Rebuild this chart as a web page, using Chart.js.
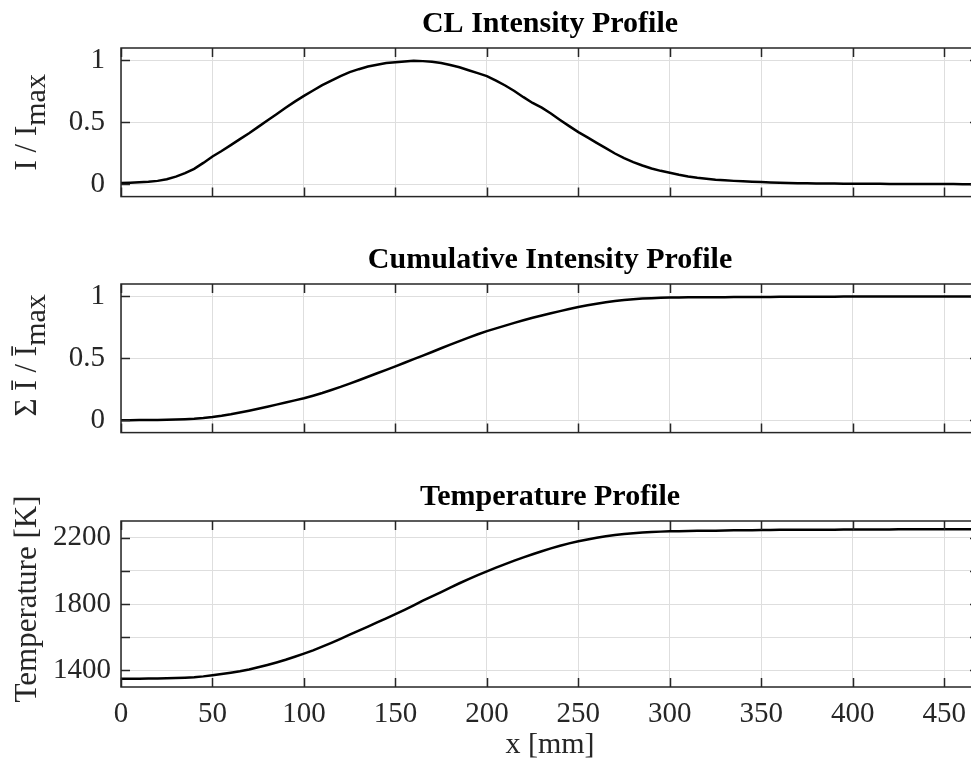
<!DOCTYPE html>
<html>
<head>
<meta charset="utf-8">
<script src="https://cdn.jsdelivr.net/npm/chart.js@4/dist/chart.umd.min.js"></script>
<style>
html, body { margin: 0; padding: 0; background: #fff; overflow: hidden; width: 971px; height: 760px; }
.panel { position: absolute; left: 0; }
canvas { display: block; }
</style>
</head>
<body>
<div class="panel" style="top:0px"><canvas id="c1" width="1100" height="230"></canvas></div>
<div class="panel" style="top:236px"><canvas id="c2" width="1100" height="230"></canvas></div>
<div class="panel" style="top:473px"><canvas id="c3" width="1100" height="287"></canvas></div>
<script>
// ---------------- data ----------------
const X_MM = [0,5,10,15,20,25,30,35,40,45,50,55,60,65,70,75,80,85,90,95,100,105,110,115,120,125,130,135,140,145,150,155,160,165,170,175,180,185,190,195,200,205,210,215,220,225,230,235,240,245,250,255,260,265,270,275,280,285,290,295,300,305,310,315,320,325,330,335,340,345,350,355,360,365,370,375,380,385,390,395,400,405,410,415,420,425,430,435,440,445,450,455,460,465,470];

const INTENSITY = [0.010,0.012,0.015,0.019,0.027,0.040,0.061,0.089,0.124,0.172,0.224,0.268,0.316,0.364,0.412,0.463,0.515,0.565,0.617,0.667,0.713,0.757,0.800,0.837,0.873,0.905,0.929,0.950,0.965,0.978,0.984,0.991,0.998,0.994,0.989,0.979,0.963,0.944,0.920,0.897,0.873,0.837,0.797,0.753,0.703,0.656,0.618,0.571,0.519,0.469,0.421,0.378,0.334,0.291,0.248,0.211,0.179,0.151,0.127,0.108,0.093,0.077,0.063,0.052,0.044,0.037,0.032,0.027,0.023,0.020,0.017,0.014,0.012,0.010,0.008,0.007,0.006,0.005,0.005,0.004,0.004,0.003,0.003,0.003,0.002,0.002,0.002,0.001,0.001,0.001,0.001,0.001,0.000,0.000,0.000];

const CUMULATIVE = [0.000,0.000,0.001,0.001,0.002,0.003,0.005,0.008,0.012,0.018,0.026,0.036,0.048,0.062,0.077,0.093,0.109,0.126,0.143,0.160,0.177,0.198,0.220,0.244,0.269,0.296,0.323,0.351,0.379,0.407,0.435,0.464,0.493,0.522,0.551,0.581,0.610,0.639,0.667,0.694,0.719,0.742,0.764,0.786,0.807,0.827,0.846,0.864,0.881,0.898,0.914,0.928,0.941,0.953,0.963,0.971,0.977,0.982,0.985,0.988,0.990,0.991,0.992,0.993,0.993,0.994,0.994,0.995,0.995,0.996,0.996,0.996,0.997,0.997,0.997,0.998,0.998,0.998,0.998,0.999,0.999,0.999,0.999,0.999,0.999,1.000,1.000,1.000,1.000,1.000,1.000,1.000,1.000,1.000,1.000];

const TEMPERATURE = [1350,1350,1350,1351,1351,1352,1354,1356,1359,1364,1371,1378,1386,1395,1406,1419,1433,1448,1464,1482,1501,1521,1543,1566,1590,1615,1640,1664,1689,1714,1739,1765,1792,1820,1846,1872,1899,1925,1950,1974,1997,2019,2040,2061,2081,2100,2118,2135,2151,2165,2178,2189,2199,2208,2215,2221,2226,2230,2233,2236,2238,2239,2240,2241,2242,2242,2243,2244,2245,2245,2246,2246,2247,2247,2247,2248,2248,2248,2248,2249,2249,2249,2249,2249,2249,2250,2250,2250,2250,2250,2250,2250,2250,2250,2250];

const X_TICKS = [0,50,100,150,200,250,300,350,400,450];
const X_MIN = 0, X_MAX = 469;
const NORM_TICKS = [0,0.5,1];
const NORM_MIN = -0.1, NORM_MAX = 1.1;
const TEMP_TICKS = [1400,1600,1800,2000,2200];
const TEMP_LABELED = [1400,1800,2200];
const TEMP_MIN = 1300, TEMP_MAX = 2300;

const TITLES = ['CL Intensity Profile','Cumulative Intensity Profile','Temperature Profile'];
const YLABELS = [
  [{t:'I / I'},{t:'max',sub:true}],
  [{t:'\u03A3 \u012A / \u012A'},{t:'max',sub:true}],
  [{t:'Temperature [K]'}]
];
const XLABEL = 'x [mm]';

// ---------------- style ----------------
const SERIF = "'Liberation Serif', 'Times New Roman', serif";
const AXIS_COLOR = '#262626';
const GRID_COLOR = '#dedede';
const TICK_LEN = 9;

function framePlugin() {
  return {
    id: 'frame',
    afterDatasetsDraw(chart) {
      const {ctx, chartArea: a, scales} = chart;
      ctx.save();
      ctx.strokeStyle = AXIS_COLOR;
      ctx.lineWidth = 1.5;
      ctx.beginPath();
      scales.x.ticks.forEach(t => {
        const px = Math.round(scales.x.getPixelForValue(t.value)) + 0.5;
        ctx.moveTo(px, a.bottom); ctx.lineTo(px, a.bottom - TICK_LEN);
        ctx.moveTo(px, a.top); ctx.lineTo(px, a.top + TICK_LEN);
      });
      scales.y.ticks.forEach(t => {
        const py = Math.round(scales.y.getPixelForValue(t.value)) + 0.5;
        ctx.moveTo(a.left, py); ctx.lineTo(a.left + TICK_LEN, py);
        ctx.moveTo(a.right, py); ctx.lineTo(a.right - TICK_LEN, py);
      });
      ctx.stroke();
      ctx.strokeRect(a.left, a.top, a.right - a.left, a.bottom - a.top);
      ctx.restore();
    }
  };
}

function titlePlugin(text) {
  return {
    id: 'paneltitle',
    afterDraw(chart) {
      const {ctx, chartArea: a} = chart;
      ctx.save();
      ctx.font = 'bold 30px ' + SERIF;
      ctx.fillStyle = '#000';
      ctx.textAlign = 'center';
      ctx.textBaseline = 'alphabetic';
      ctx.fillText(text, (a.left + a.right) / 2, a.top - 16);
      ctx.restore();
    }
  };
}

function yLabelPlugin(parts, baselineX, shift) {
  return {
    id: 'ylabel',
    afterDraw(chart) {
      const {ctx, chartArea: a} = chart;
      const fontFor = p => (p.sub ? '30px ' : '31px ') + SERIF;
      ctx.save();
      let total = 0;
      const widths = parts.map(p => { ctx.font = fontFor(p); const w = ctx.measureText(p.t).width; total += w; return w; });
      const cy = (a.top + a.bottom) / 2 + shift;
      ctx.translate(baselineX, cy);
      ctx.rotate(-Math.PI / 2);
      ctx.fillStyle = AXIS_COLOR;
      ctx.textAlign = 'left';
      ctx.textBaseline = 'alphabetic';
      let pos = -total / 2;
      parts.forEach((p, i) => {
        ctx.font = fontFor(p);
        ctx.fillText(p.t, pos, p.sub ? 9 : 0);
        pos += widths[i];
      });
      ctx.restore();
    }
  };
}

function makeChart(id, values, cfg) {
  const ticksList = cfg.yTicks;
  return new Chart(document.getElementById(id), {
    type: 'line',
    data: {
      datasets: [{
        data: X_MM.map((x, i) => ({x: x, y: values[i]})),
        borderColor: '#000',
        borderWidth: 2.5,
        pointRadius: 0,
        tension: 0,
        fill: false
      }]
    },
    options: {
      responsive: false,
      animation: false,
      events: [],
      layout: { padding: { left: 0, right: 121, top: 48, bottom: 0 } },
      plugins: {
        legend: { display: false },
        tooltip: { enabled: false },
        title: { display: false }
      },
      scales: {
        x: {
          type: 'linear',
          min: X_MIN, max: X_MAX,
          afterBuildTicks: s => { s.ticks = X_TICKS.map(v => ({value: v})); },
          afterFit: s => { s.height = cfg.xHeight; },
          grid: { color: GRID_COLOR, lineWidth: 1, drawTicks: false },
          border: { display: false },
          ticks: {
            display: cfg.showX,
            color: AXIS_COLOR,
            padding: 10,
            maxRotation: 0,
            autoSkip: false,
            font: { family: SERIF, size: 29 }
          },
          title: {
            display: cfg.showX,
            text: XLABEL,
            color: AXIS_COLOR,
            font: { family: SERIF, size: 30, lineHeight: 1 },
            padding: { top: 0, bottom: 0 }
          }
        },
        y: {
          type: 'linear',
          min: cfg.yMin, max: cfg.yMax,
          afterBuildTicks: s => { s.ticks = ticksList.map(v => ({value: v})); },
          afterFit: s => { s.width = 121; },
          grid: { color: GRID_COLOR, lineWidth: 1, drawTicks: false },
          border: { display: false },
          ticks: {
            color: AXIS_COLOR,
            padding: cfg.yPad,
            autoSkip: false,
            font: { family: SERIF, size: 29 },
            callback: cfg.yLabel
          }
        }
      }
    },
    plugins: [framePlugin(), titlePlugin(cfg.title), yLabelPlugin(cfg.ylabel, 36, cfg.labelShift)]
  });
}

makeChart('c1', INTENSITY, {
  title: TITLES[0], ylabel: YLABELS[0], yTicks: NORM_TICKS, yMin: NORM_MIN, yMax: NORM_MAX,
  showX: false, xHeight: 17, yPad: 16, labelShift: 0,
  yLabel: v => String(v)
});
makeChart('c2', CUMULATIVE, {
  title: TITLES[1], ylabel: YLABELS[1], yTicks: NORM_TICKS, yMin: NORM_MIN, yMax: NORM_MAX,
  showX: false, xHeight: 16, yPad: 16, labelShift: -3,
  yLabel: v => String(v)
});
makeChart('c3', TEMPERATURE, {
  title: TITLES[2], ylabel: YLABELS[2], yTicks: TEMP_TICKS, yMin: TEMP_MIN, yMax: TEMP_MAX,
  showX: true, xHeight: 73, yPad: 10, labelShift: -5,
  yLabel: v => (TEMP_LABELED.indexOf(v) >= 0 ? String(v) : '')
});
</script>
</body>
</html>
